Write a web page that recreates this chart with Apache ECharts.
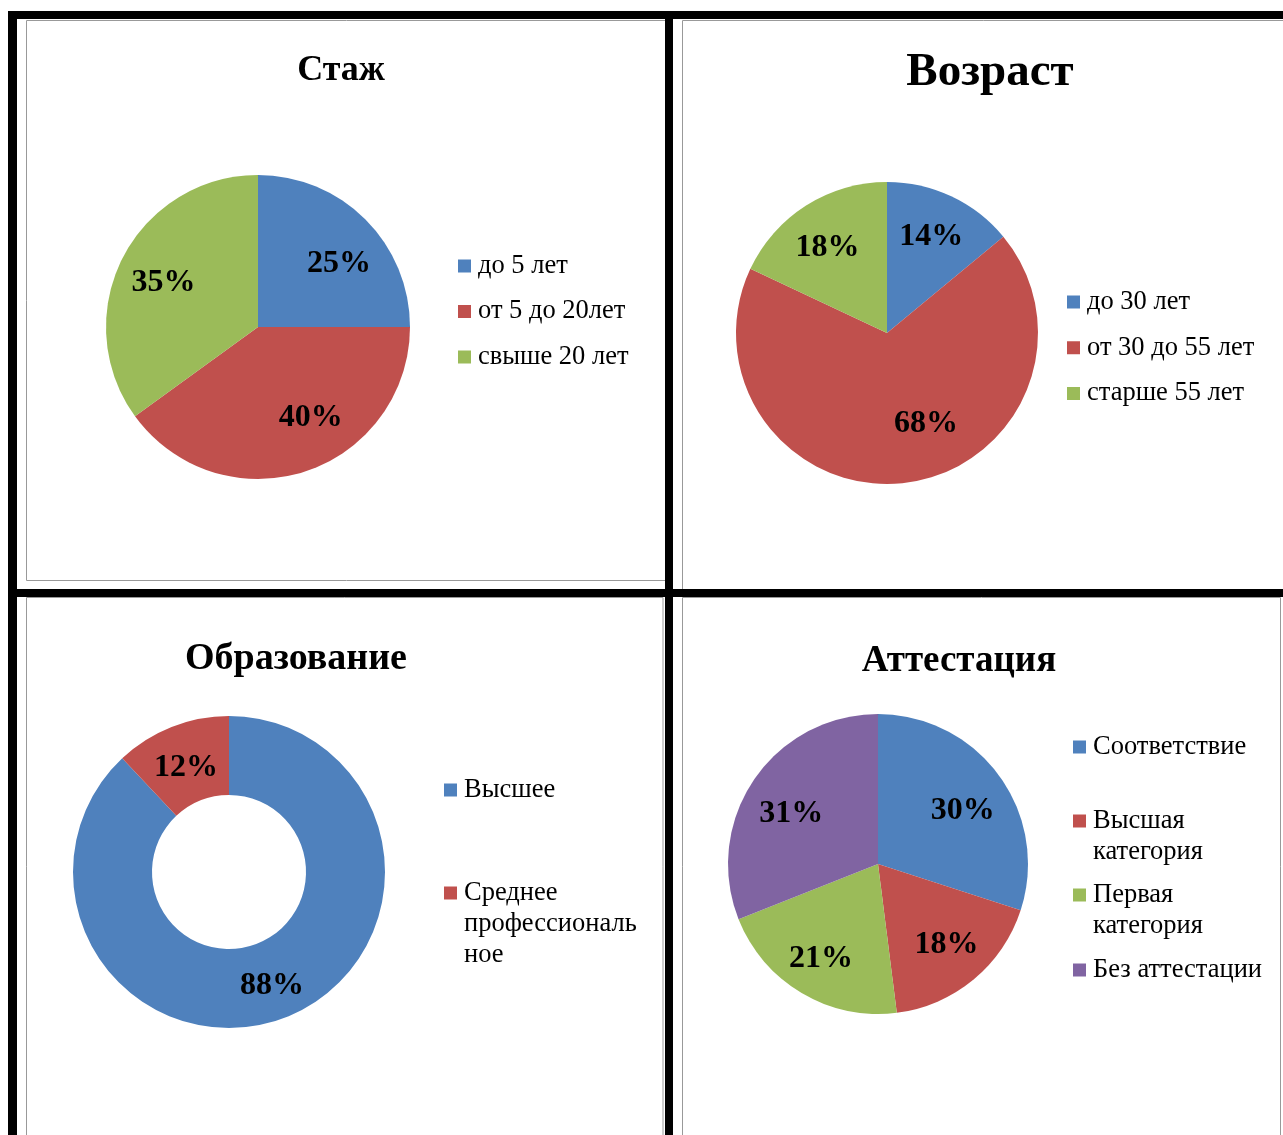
<!DOCTYPE html>
<html><head><meta charset="utf-8">
<script src="https://cdn.jsdelivr.net/npm/echarts@6/dist/echarts.min.js"></script>
<style>html,body{margin:0;padding:0;background:#fff}#c{width:1283px;height:1135px}</style>
</head><body><div id="c"></div>
<script>
// ---- data ----
const stazhCategories = ['до 5 лет', 'от 5 до 20лет', 'свыше 20 лет'];
const stazhValues = [25, 40, 35];
const ageCategories = ['до 30 лет', 'от 30 до 55 лет', 'старше 55 лет'];
const ageValues = [14, 68, 18];
const eduCategories = ['Высшее', 'Среднее профессиональное'];
const eduValues = [88, 12];
const attCategories = ['Соответствие', 'Высшая категория', 'Первая категория', 'Без аттестации'];
const attValues = [30, 18, 21, 31];
const chartTitles = ['Стаж', 'Возраст', 'Образование', 'Аттестация'];
// legend text as wrapped in the reference
const legendText = {
  'Среднее профессиональное': 'Среднее\nпрофессиональ\nное',
  'Высшая категория': 'Высшая\nкатегория',
  'Первая категория': 'Первая\nкатегория'
};

// ---- styling ----
const COLORS = ['#4F81BD', '#C0504D', '#9BBB59', '#8064A2'];
const FONT = '"Liberation Serif", "Times New Roman", serif';
const LH = 31;
const LABEL_FS = 32;

function pieData(cats, vals, offsets) {
  return cats.map((n, i) => ({ name: n, value: vals[i], itemStyle: { color: COLORS[i] },
    label: { offset: (offsets && offsets[i]) || [0, 0] } }));
}
function mainPie(cats, vals, center, radius, showLabel, offsets) {
  return {
    type: 'pie', center: center, radius: radius, startAngle: 90, clockwise: true,
    silent: true, animation: false, avoidLabelOverlap: false,
    itemStyle: { borderWidth: 0 },
    label: showLabel ? { show: true, position: 'inside', formatter: '{c}%', fontFamily: FONT, fontSize: LABEL_FS, fontWeight: 'bold', color: '#000' } : { show: false },
    labelLine: { show: false },
    emphasis: { disabled: true },
    data: pieData(cats, vals, offsets)
  };
}
function labelPie(cats, vals, center, radius, offsets) {
  return {
    type: 'pie', center: center, radius: radius, startAngle: 90, clockwise: true,
    silent: true, animation: false, avoidLabelOverlap: false, legendHoverLink: false,
    itemStyle: { color: 'rgba(0,0,0,0)', borderWidth: 0 },
    label: { show: true, position: 'inside', formatter: '{c}%', fontFamily: FONT, fontSize: LABEL_FS, fontWeight: 'bold', color: '#000' },
    labelLine: { show: false },
    emphasis: { disabled: true },
    data: cats.map((n, i) => ({ name: n, value: vals[i], label: { offset: offsets[i] || [0, 0] } }))
  };
}
// firstLineY: centre of the first text line; multi-line items get blank lines
// prepended so the marker stays level with the first line
function legend(names, left, firstLineY, gap) {
  const extra = names.length === 1 ? ((legendText[names[0]] || names[0]).split('\n').length - 1) : 0;
  return {
    orient: 'vertical', left: left, top: firstLineY - LH / 2 - extra * LH, itemGap: gap || 0, padding: 0,
    itemWidth: 13, itemHeight: 13, icon: 'rect', selectedMode: false,
    data: names,
    formatter: n => '\n'.repeat(extra) + (legendText[n] || n),
    textStyle: { fontFamily: FONT, fontSize: 26.5, lineHeight: LH, color: '#000', padding: [0, 0, 0, 2] }
  };
}
function title(text, cx, cy, size) {
  return { text: text, left: cx, top: cy - size / 2, textAlign: 'center', padding: 0,
    textStyle: { fontFamily: FONT, fontSize: size, fontWeight: 'bold', color: '#000' } };
}

const frame = { stroke: '#999', lineWidth: 1, fill: 'none' };
const option = {
  animation: false,
  textStyle: { fontFamily: FONT },
  title: [
    title(chartTitles[0], 341, 71, 36),
    title(chartTitles[1], 990, 73, 47),
    title(chartTitles[2], 296, 659, 38),
    title(chartTitles[3], 959, 661, 37)
  ],
  legend: [
    legend(stazhCategories, 458, 266, 14.5),
    legend(ageCategories, 1067, 302, 14.75),
    legend([eduCategories[0]], 444, 790),
    legend([eduCategories[1]], 444, 893),
    legend([attCategories[0]], 1073, 747),
    legend([attCategories[1]], 1073, 821),
    legend([attCategories[2]], 1073, 895),
    legend([attCategories[3]], 1073, 970)
  ],
  graphic: [
    { type: 'rect', shape: { x: 26.5, y: 20.5, width: 640, height: 560 }, style: frame, silent: true },
    { type: 'rect', shape: { x: 682.5, y: 20.5, width: 700, height: 575 }, style: frame, silent: true },
    { type: 'rect', shape: { x: 26.5, y: 597.5, width: 636.5, height: 600 }, style: frame, silent: true },
    { type: 'rect', shape: { x: 682.5, y: 597.5, width: 598, height: 600 }, style: frame, silent: true },
    { type: 'rect', shape: { x: 8, y: 11, width: 1275, height: 8 }, style: { fill: '#000' }, silent: true },
    { type: 'rect', shape: { x: 8, y: 11, width: 9, height: 1124 }, style: { fill: '#000' }, silent: true },
    { type: 'rect', shape: { x: 665, y: 11, width: 8, height: 1124 }, style: { fill: '#000' }, silent: true },
    { type: 'rect', shape: { x: 8, y: 589, width: 1275, height: 8 }, style: { fill: '#000' }, silent: true }
  ],
  series: [
    mainPie(stazhCategories, stazhValues, [258, 327], 152, false),
    labelPie(stazhCategories, stazhValues, [258, 327], 206, [[6, 12], [20, -10], [0, 4]]),
    mainPie(ageCategories, ageValues, [887, 333], 151, false),
    labelPie(ageCategories, ageValues, [887, 333], 216, [[-3, 4], [25, -19], [0, 8]]),
    mainPie(eduCategories, eduValues, [229, 872], [77, 156], true, [[-1, 3], [1, 7]]),
    mainPie(attCategories, attValues, [878, 864], 150, false),
    labelPie(attCategories, attValues, [878, 864], 206, [[-1, 9], [1, -1], [-3, 3], [1, 9]])
  ]
};
const chart = echarts.init(document.getElementById('c'), null, { renderer: 'canvas' });
chart.setOption(option);
</script>
</body></html>
